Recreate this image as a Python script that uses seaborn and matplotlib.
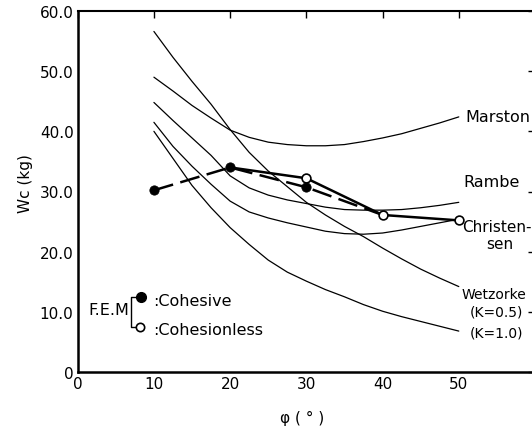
import matplotlib
matplotlib.use("Agg")
import matplotlib.pyplot as plt
import seaborn as sns
import pandas as pd

# ---------------- data ----------------
phi_grid = [10, 12.5, 15, 17.5, 20, 22.5, 25, 27.5, 30, 32.5, 35, 37.5, 40, 42.5, 45, 47.5, 50]
marston = [49.0, 46.7, 44.3, 42.2, 40.2, 39.0, 38.2, 37.8, 37.6, 37.6, 37.8, 38.3, 38.9, 39.6, 40.5, 41.4, 42.4]
rambe = [44.8, 41.8, 38.9, 36.0, 32.6, 30.6, 29.4, 28.6, 28.0, 27.4, 27.0, 26.9, 26.9, 27.0, 27.3, 27.7, 28.2]
christensen = [41.5, 37.5, 34.2, 31.2, 28.4, 26.6, 25.6, 24.8, 24.1, 23.4, 23.0, 22.9, 23.1, 23.6, 24.2, 24.8, 25.4]
wetzorke_k05 = [56.6, 52.3, 48.3, 44.5, 40.3, 36.5, 33.4, 30.8, 28.2, 26.1, 24.2, 22.5, 20.6, 18.8, 17.1, 15.6, 14.2]
wetzorke_k10 = [40.0, 35.5, 31.0, 27.3, 24.0, 21.2, 18.6, 16.6, 15.1, 13.7, 12.5, 11.2, 10.1, 9.2, 8.4, 7.6, 6.8]

fem_cohesive_x = [10, 20, 30, 40]
fem_cohesive_y = [30.2, 34.0, 30.7, 26.1]
fem_cohesionless_x = [20, 30, 40, 50]
fem_cohesionless_y = [34.0, 32.2, 26.1, 25.2]

x_ticks = [0, 10, 20, 30, 40, 50]
x_ticklabels = ["0", "10", "20", "30", "40", "50"]
y_ticks = [0, 10, 20, 30, 40, 50, 60]
y_ticklabels = ["0", "10.0", "20.0", "30.0", "40.0", "50.0", "60.0"]

curves = {
    "Marston": marston,
    "Rambe": rambe,
    "Christensen": christensen,
    "Wetzorke K=0.5": wetzorke_k05,
    "Wetzorke K=1.0": wetzorke_k10,
}
df = pd.concat(
    [pd.DataFrame({"phi": phi_grid, "Wc": v, "curve": k}) for k, v in curves.items()],
    ignore_index=True,
)

# ---------------- figure ----------------
sns.set_style("white")
plt.rcParams["font.family"] = ["DejaVu Sans"]
plt.rcParams["text.color"] = "black"
plt.rcParams["axes.labelcolor"] = "black"
plt.rcParams["xtick.color"] = "black"
plt.rcParams["ytick.color"] = "black"

fig = plt.figure(figsize=(5.32, 4.31), dpi=100)
ax = fig.add_axes([77.7 / 532, 58 / 431, (535 - 77.7) / 532, 361 / 431])

sns.lineplot(data=df, x="phi", y="Wc", units="curve", estimator=None,
             color="black", lw=0.9, ax=ax, legend=False)

sns.lineplot(x=fem_cohesive_x, y=fem_cohesive_y, color="black", lw=1.8,
             ls=(0, (8, 3)), ax=ax, legend=False, sort=False)
sns.lineplot(x=fem_cohesionless_x, y=fem_cohesionless_y, color="black", lw=1.8,
             ax=ax, legend=False, sort=False)

sns.scatterplot(x=fem_cohesive_x[:3], y=fem_cohesive_y[:3], color="black",
                s=45, edgecolor="black", zorder=4, ax=ax, legend=False)
sns.scatterplot(x=fem_cohesionless_x[1:], y=fem_cohesionless_y[1:], color="white",
                s=40, edgecolor="black", linewidth=1.2, zorder=4, ax=ax, legend=False)

ax.set_xlim(0, 60)
ax.set_ylim(0, 60)
ax.set_xticks(x_ticks)
ax.set_xticklabels(x_ticklabels)
ax.set_yticks(y_ticks)
ax.set_yticklabels(y_ticklabels)
ax.tick_params(direction="in", length=5, width=1, top=True, right=True,
               labelsize=11, colors="black", labelcolor="black", pad=3)

for side in ["left", "bottom"]:
    ax.spines[side].set_linewidth(1.8)
for side in ["top", "right"]:
    ax.spines[side].set_linewidth(1.5)
for s in ax.spines.values():
    s.set_color("black")

ax.set_xlabel("φ ( ° )", fontsize=11, color="black")
ax.set_ylabel("Wc (kg)", fontsize=11, color="black")
ax.xaxis.set_label_coords(0.49, -0.105)
ax.yaxis.set_label_coords(-0.098, 0.526)

# curve labels
fs = 11
ax.text(50.8, 42.5, "Marston", fontsize=11.5, va="center", ha="left")
ax.text(50.6, 31.6, "Rambe", fontsize=11.5, va="center", ha="left")
ax.text(50.4, 24.1, "Christen-", fontsize=fs, va="center", ha="left")
ax.text(55.4, 21.3, "sen", fontsize=fs, va="center", ha="center")
ax.text(50.4, 13.0, "Wetzorke", fontsize=10, va="center", ha="left")
ax.text(51.5, 10.0, "(K=0.5)", fontsize=10, va="center", ha="left")
ax.text(51.5, 6.6, "(K=1.0)", fontsize=10, va="center", ha="left")

# F.E.M key
fs2 = 11.5
ax.text(1.35, 10.4, "F.E.M", fontsize=fs2, va="center", ha="left")
ax.plot([8.2, 7.0, 7.0, 8.2], [12.5, 12.5, 7.5, 7.5], color="black", lw=1.0)
ax.plot([8.3], [12.4], "o", color="black", ms=7)
ax.plot([8.2], [7.5], "o", mfc="white", mec="black", ms=6, mew=1.2)
ax.text(9.9, 11.9, ":Cohesive", fontsize=fs2, va="center", ha="left")
ax.text(9.9, 7.1, ":Cohesionless", fontsize=fs2, va="center", ha="left")

fig.savefig("out.png", dpi=100)
